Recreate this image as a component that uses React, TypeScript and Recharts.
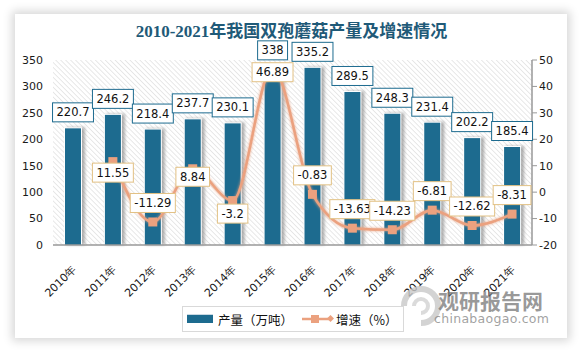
import React from "react";
import { ComposedChart, Bar, Line, XAxis, YAxis, LabelList } from "recharts";

const years = ["2010年", "2011年", "2012年", "2013年", "2014年", "2015年", "2016年", "2017年", "2018年", "2019年", "2020年", "2021年"];
const output = [220.7, 246.2, 218.4, 237.7, 230.1, 338, 335.2, 289.5, 248.3, 231.4, 202.2, 185.4];
const growth: (number | null)[] = [null, 11.55, -11.29, 8.84, -3.2, 46.89, -0.83, -13.63, -14.23, -6.81, -12.62, -8.31];
const leftTicks = [0, 50, 100, 150, 200, 250, 300, 350];
const rightTicks = [-20, -10, 0, 10, 20, 30, 40, 50];

const data = years.map((y, i) => ({ year: y, output: output[i], growth: growth[i] }));

// label layout (vertical offset of growth label centre relative to point)
const growthLabelDy: Record<string, number> = {
  "2011年": 11, "2013年": 8, "2014年": 13, "2015年": 4,
};

const BAR = "#1d6b8f";
const LINE = "#eba17f";
const NUM_FONT = "DejaVu Sans, Verdana, sans-serif";
const CJK_FONT = "Noto Sans CJK SC, sans-serif";

function textW(s: string, fs: number) {
  let w = 0;
  for (const c of s) {
    if (c === ".") w += fs * 0.32;
    else if (c === "-") w += fs * 0.36;
    else w += fs * 0.636;
  }
  return w;
}

const BoxLabel = (props: any) => {
  const { cx, cy, value, stroke } = props;
  const s = String(value);
  const fs = 11.5;
  const w = textW(s, fs) + 8;
  const h = 19;
  return (
    <g>
      <rect x={cx - w / 2} y={cy - h / 2} width={w} height={h} fill="#fff" stroke={stroke} strokeWidth={1} />
      <text x={cx} y={cy + 4} textAnchor="middle" fontSize={fs} fontFamily={NUM_FONT} fill="#111">{s}</text>
    </g>
  );
};

const BarLabel = (props: any) => {
  const { x, y, width, value } = props;
  return <BoxLabel cx={x + width / 2} cy={y - 16} value={value} stroke={BAR} />;
};

const LineLabel = (props: any) => {
  const { x, y, value, index } = props;
  if (value === null || value === undefined) return null;
  const yr = years[index];
  const dy = growthLabelDy[yr] !== undefined ? growthLabelDy[yr] : -19;
  return <BoxLabel cx={x} cy={y + dy} value={value} stroke="#e2c184" />;
};

const BarShape = (props: any) => {
  const { x, y, width, height } = props;
  return (
    <g>
      <rect x={x + 1} y={y - 1} width={width + 3} height={height + 1} fill="#7a7a7a" filter="url(#bshadow)" opacity={0.6} />
      <rect x={x - 1} y={y - 1} width={width + 2} height={height + 1} fill="#fff" />
      <rect x={x} y={y} width={width} height={height} fill={BAR} />
    </g>
  );
};

const SquareDot = (props: any) => {
  const { cx, cy, value } = props;
  if (value === null || value === undefined || cx == null || cy == null) return null;
  return <rect x={cx - 4.5} y={cy - 4.5} width={9} height={9} fill={LINE} />;
};

const XTick = (props: any) => {
  const { x, y, payload } = props;
  const ax = x + 4;
  const ay = y + 17;
  return (
    <text
      x={ax}
      y={ay}
      transform={`rotate(-45 ${ax} ${ay})`}
      textAnchor="end"
      fontSize={11}
      fontFamily={NUM_FONT}
      fill="#1a1a1a"
    >
      {payload.value}
    </text>
  );
};

export default function App() {
  return (
    <div style={{ position: "absolute", left: 0, top: 0, width: 583, height: 351, background: "#fff", overflow: "hidden" }}>
      <div
        style={{
          position: "absolute", left: 15, top: 14, width: 552, height: 324, background: "#fff",
          boxShadow: "0 0 9px 3px rgba(0,0,0,0.16)",
        }}
      />
      <div
        style={{
          position: "absolute", left: 0, top: 23, width: 583, textAlign: "center", lineHeight: "17px",
          fontFamily: "Liberation Serif, Noto Sans CJK SC, serif", fontWeight: "bold", fontSize: 17, color: "#1f5a78",
        }}
      >
        2010-2021年我国双孢蘑菇产量及增速情况
      </div>
      <div style={{ position: "absolute", left: 0, top: 0 }}>
        <ComposedChart width={583} height={351} data={data} margin={{ top: 60, right: 11, left: 13, bottom: 46 }} barCategoryGap={0}>
          <defs>
            <pattern id="hatch" width="3.5" height="3.5" patternUnits="userSpaceOnUse" patternTransform="rotate(-45)">
              <rect width="3.5" height="3.5" fill="#fff" />
              <line x1="0" y1="0" x2="0" y2="3.5" stroke="#d9d9d9" strokeWidth="1.2" />
            </pattern>
            <filter id="bshadow" x="-50%" y="-10%" width="200%" height="120%">
              <feGaussianBlur stdDeviation="1.8" />
            </filter>
            <filter id="lglow" x="-10%" y="-10%" width="120%" height="120%">
              <feGaussianBlur in="SourceGraphic" stdDeviation="1.5" result="b" />
              <feMerge>
                <feMergeNode in="b" />
                <feMergeNode in="SourceGraphic" />
              </feMerge>
            </filter>
          </defs>
          <rect x={53} y={60} width={479} height={185} fill="url(#hatch)" />
          <XAxis
            dataKey="year"
            tick={<XTick />}
            tickLine={false}
            axisLine={{ stroke: "#999", strokeWidth: 1.5 }}
            height={60}
            interval={0}
          />
          <YAxis
            yAxisId="l"
            domain={[0, 350]}
            ticks={leftTicks}
            width={40}
            axisLine={false}
            tickLine={false}
            tick={{ fontSize: 11, fontFamily: NUM_FONT, fill: "#1a1a1a" }}
            tickMargin={4}
          />
          <YAxis
            yAxisId="r"
            orientation="right"
            domain={[-20, 50]}
            ticks={rightTicks}
            width={40}
            axisLine={{ stroke: "#999", strokeWidth: 1.5 }}
            tickLine={{ stroke: "#999" }}
            tickSize={5}
            tick={{ fontSize: 11, fontFamily: NUM_FONT, fill: "#1a1a1a" }}
            tickMargin={2}
          />
          <Bar yAxisId="l" dataKey="output" barSize={16} fill={BAR} shape={<BarShape />} isAnimationActive={false}>
            <LabelList dataKey="output" content={<BarLabel />} />
          </Bar>
          <Line
            yAxisId="r"
            dataKey="growth"
            type="monotone"
            stroke={LINE}
            strokeWidth={2.5}
            dot={<SquareDot />}
            activeDot={false}
            filter="url(#lglow)"
            isAnimationActive={false}
          >
            <LabelList dataKey="growth" content={<LineLabel />} />
          </Line>
        </ComposedChart>
      </div>
      {/* legend */}
      <div
        style={{
          position: "absolute", left: 182, top: 306, width: 220, height: 24, border: "1px solid #d9d9d9",
          fontFamily: CJK_FONT, fontSize: 12.5, color: "#111", background: "#fff",
        }}
      >
        <div style={{ position: "absolute", left: 4, top: 7, width: 26, height: 8, background: BAR, borderTop: "1px solid #c9d9e3" }} />
        <div style={{ position: "absolute", left: 35, top: 3, whiteSpace: "nowrap" }}>产量（万吨）</div>
        <svg style={{ position: "absolute", left: 118, top: 4 }} width={34} height={16}>
          <line x1={1} y1={8} x2={28} y2={8} stroke={LINE} strokeWidth={2.5} />
          <rect x={10} y={4} width={8} height={8} fill={LINE} />
          <rect x={27} y={5} width={5} height={5} fill={LINE} transform="rotate(45 29.5 7.5)" />
        </svg>
        <div style={{ position: "absolute", left: 153, top: 3, whiteSpace: "nowrap" }}>增速（%）</div>
      </div>
      {/* watermark */}
      <svg style={{ position: "absolute", left: 398, top: 282 }} width={46} height={48}>
        <path d="M 6 24 A 17 17 0 1 1 23 41" fill="none" stroke="#c8c8c8" strokeWidth={6} opacity={0.8} />
        <path d="M 16 24 A 7 7 0 1 1 23 31" fill="none" stroke="#d2d2d2" strokeWidth={4} opacity={0.8} />
      </svg>
      <div
        style={{
          position: "absolute", left: 438, top: 290, fontFamily: CJK_FONT, fontWeight: "bold", fontSize: 21,
          lineHeight: "21px", color: "rgba(120,120,120,0.75)", whiteSpace: "nowrap",
        }}
      >
        观研报告网
      </div>
      <div
        style={{
          position: "absolute", left: 434, top: 312, fontFamily: "DejaVu Sans, sans-serif", fontSize: 12.5,
          lineHeight: "14px", color: "rgba(130,130,130,0.75)", whiteSpace: "nowrap", letterSpacing: 0.3,
        }}
      >
        chinabaogao.com
      </div>
    </div>
  );
}
